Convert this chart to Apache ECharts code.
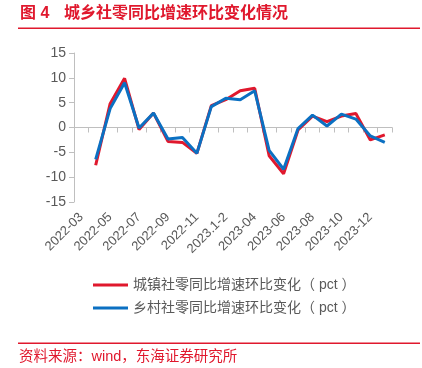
<!DOCTYPE html>
<html>
<head>
<meta charset="utf-8">
<script src="https://cdn.jsdelivr.net/npm/echarts@6/dist/echarts.min.js"></script>
<style>
html,body{margin:0;padding:0;background:#fff;}
#main{width:422px;height:368px;}
</style>
</head>
<body>
<div id="main"></div>
<script>
// Categories (first month has no previous month, so its value is blank)
var categories = ['2022-03','2022-04','2022-05','2022-06','2022-07','2022-08','2022-09','2022-10','2022-11','2022-12',
  '2023.1-2','2023-03','2023-04','2023-05','2023-06','2023-07','2023-08','2023-09','2023-10','2023-11','2023-12','2024-01'];
var urbanName = '城镇社零同比增速环比变化（ pct ）';
var ruralName = '乡村社零同比增速环比变化（ pct ）';
var urbanValues = [null, -7.6, 4.8, 9.9, -0.4, 2.9, -2.8, -3.0, -5.2, 4.4, 5.6, 7.4, 7.9, -5.7, -9.3, -0.5, 2.3, 1.2, 2.3, 2.8, -2.5, -1.5];
var ruralValues = [null, -6.4, 3.8, 9.0, -0.1, 2.9, -2.3, -2.0, -5.2, 4.2, 5.9, 5.6, 7.4, -4.6, -8.4, -0.2, 2.5, 0.3, 2.7, 1.7, -1.7, -3.0];
var yTicks = {min: -15, max: 15, interval: 5};

var chart = echarts.init(document.getElementById('main'), null, {renderer: 'canvas'});
var red = '#e0182d', blue = '#0b70c2', grey = '#595959', axisGrey = '#bfbfbf';
var cjk = '"Liberation Sans", "Noto Sans CJK SC", sans-serif';

chart.setOption({
  animation: false,
  backgroundColor: '#ffffff',
  textStyle: {fontFamily: cjk},
  grid: {left: 74, right: 30, top: 53, bottom: 166, containLabel: false},
  legend: {
    orient: 'vertical', left: 93, top: 277, padding: 0,
    itemWidth: 35, itemHeight: 3, itemGap: 7,
    icon: 'rect',
    textStyle: {color: grey, fontSize: 14, fontFamily: cjk, lineHeight: 16},
    data: [urbanName, ruralName]
  },
  xAxis: [{
    type: 'category', data: categories, position: 'bottom', boundaryGap: true,
    axisLine: {show: false, onZero: false}, axisTick: {show: false},
    axisLabel: {interval: 1, rotate: 45, color: grey, fontSize: 13, margin: 13, padding: [8, 0, 0, 0], fontFamily: cjk}
  }, {
    type: 'category', data: categories, position: 'top', boundaryGap: true,
    axisLine: {show: true, onZero: true, lineStyle: {color: axisGrey, width: 1}},
    axisTick: {show: true, inside: true, length: 5, interval: 0, lineStyle: {color: axisGrey}},
    axisLabel: {show: false}
  }],
  yAxis: {
    type: 'value', min: yTicks.min, max: yTicks.max, interval: yTicks.interval,
    axisLine: {show: true, lineStyle: {color: axisGrey}},
    axisTick: {show: true, length: 5, lineStyle: {color: axisGrey}},
    splitLine: {show: false},
    axisLabel: {color: grey, fontSize: 14, margin: 8, fontFamily: cjk}
  },
  series: [{
    name: urbanName, type: 'line', data: urbanValues, xAxisIndex: 0,
    symbol: 'none', lineStyle: {color: red, width: 3}, itemStyle: {color: red}
  }, {
    name: ruralName, type: 'line', data: ruralValues, xAxisIndex: 0,
    symbol: 'none', lineStyle: {color: blue, width: 3}, itemStyle: {color: blue}
  }],
  graphic: [
    {type: 'text', left: 20, top: 6, style: {text: '图 4', fill: red, font: 'bold 16px ' + cjk}},
    {type: 'text', left: 64, top: 6, style: {text: '城乡社零同比增速环比变化情况', fill: red, font: 'bold 16px ' + cjk}},
    {type: 'rect', shape: {x: 18, y: 27.5, width: 402, height: 1.5}, style: {fill: red}},
    {type: 'rect', shape: {x: 18, y: 342.5, width: 402, height: 1.5}, style: {fill: red}},
    {type: 'text', left: 19, top: 350, style: {text: '资料来源：wind，东海证券研究所', fill: red, font: '14.5px ' + cjk}}
  ]
});
</script>
</body>
</html>
